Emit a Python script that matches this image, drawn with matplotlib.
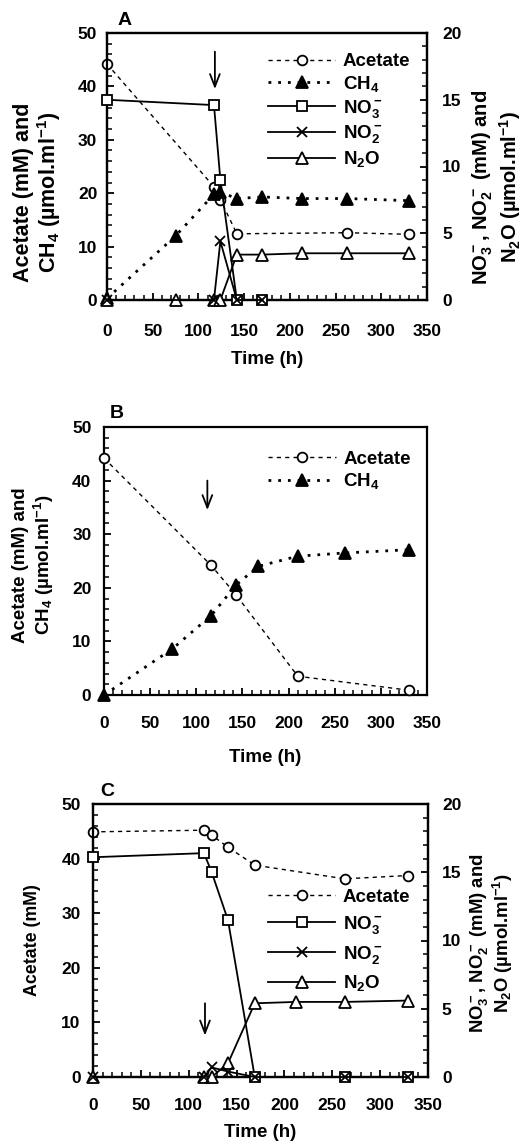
import matplotlib
matplotlib.use("Agg")
import matplotlib.pyplot as plt
from matplotlib.ticker import MultipleLocator

plt.rcParams['font.family'] = ['Liberation Sans', 'DejaVu Sans']
plt.rcParams['font.weight'] = 'bold'
plt.rcParams['mathtext.fontset'] = 'custom'
plt.rcParams['mathtext.rm'] = 'Liberation Sans:bold'
plt.rcParams['mathtext.it'] = 'Liberation Sans:bold'
plt.rcParams['mathtext.bf'] = 'Liberation Sans:bold'
plt.rcParams['mathtext.default'] = 'bf'

# ---------------- Data ----------------
# Panel A
tA_ace = [0, 117, 124, 142, 263, 330]
A_ace = [44.2, 21.2, 18.8, 12.4, 12.6, 12.3]
tA_ch4 = [0, 75, 117, 124, 142, 170, 213, 263, 330]
A_ch4 = [0.3, 12.0, 19.8, 20.2, 19.0, 19.3, 19.0, 19.0, 18.6]
tA_no3 = [0, 117, 124, 142, 170]
A_no3 = [15.0, 14.6, 9.0, 0.0, 0.0]
tA_no2 = [0, 117, 124, 142, 170]
A_no2 = [0.0, 0.0, 4.4, 0.0, 0.0]
tA_n2o = [0, 75, 117, 124, 142, 170, 213, 263, 330]
A_n2o = [0.0, 0.0, 0.0, 0.0, 3.4, 3.4, 3.5, 3.5, 3.5]

# Panel B
tB = [0, 74, 116, 143, 167, 210, 261, 330]
tB_ace = [0, 116, 143, 210, 330]
B_ace = [44.2, 24.2, 18.7, 3.5, 0.9]
B_ch4 = [0.0, 8.6, 14.8, 20.5, 24.0, 25.9, 26.5, 27.1]

# Panel C
tC_ace = [0, 116, 124, 141, 169, 263, 329]
C_ace = [44.9, 45.2, 44.3, 42.1, 38.8, 36.3, 36.9]
tC_no3 = [0, 116, 124, 141, 169, 263, 329]
C_no3 = [16.1, 16.4, 15.0, 11.5, 0.0, 0.0, 0.0]
tC_no2 = [0, 116, 124, 141, 169, 263, 329]
C_no2 = [0.0, 0.0, 0.7, 0.4, 0.0, 0.0, 0.0]
tC_n2o = [0, 116, 124, 141, 169, 212, 263, 329]
C_n2o = [0.0, 0.0, 0.0, 1.0, 5.4, 5.5, 5.5, 5.6]

xticks = [0, 50, 100, 150, 200, 250, 300, 350]
left_ticks = [0, 10, 20, 30, 40, 50]
right_ticks = [0, 5, 10, 15, 20]

lab_ace = "Acetate"
lab_ch4 = "CH$_4$"
lab_no3 = "NO$_3^-$"
lab_no2 = "NO$_2^-$"
lab_n2o = "N$_2$O"

# ---------------- Styles ----------------
MS = 7
MEW = 1.3
ace_style = dict(color='black', lw=1.0, linestyle=(0, (3, 3)), marker='o', ms=MS,
                 mfc='white', mec='black', mew=MEW, clip_on=False, zorder=4)
ch4_style = dict(color='black', lw=2.0, linestyle=(0, (1, 2.5)), marker='^', ms=MS + 1,
                 mfc='black', mec='black', mew=MEW, clip_on=False, zorder=4)
no3_style = dict(color='black', lw=1.3, linestyle='-', marker='s', ms=MS,
                 mfc='white', mec='black', mew=MEW, clip_on=False, zorder=3)
no2_style = dict(color='black', lw=1.3, linestyle='-', marker='x', ms=MS,
                 mec='black', mew=MEW, clip_on=False, zorder=4)
n2o_style = dict(color='black', lw=1.3, linestyle='-', marker='^', ms=MS + 1,
                 mfc='white', mec='black', mew=MEW, clip_on=False, zorder=3)

TICKFS = 12.5
LABFS = 13.5
LEGFS = 13.5

fig = plt.figure(figsize=(5.32, 11.41), dpi=100)


def style_axes(ax, right=None, xpad=15, ypad=9, rpad=10, xlabpad=4):
    ax.set_xlim(0, 350)
    ax.set_ylim(0, 50)
    ax.set_xticks(xticks)
    ax.set_yticks(left_ticks)
    ax.xaxis.set_minor_locator(MultipleLocator(10))
    ax.yaxis.set_minor_locator(MultipleLocator(2))
    ax.tick_params(axis='both', which='major', direction='in', length=5, width=1.3,
                   labelsize=TICKFS)
    ax.tick_params(axis='both', which='minor', direction='in', length=3.5, width=1.1)
    ax.tick_params(axis='x', which='major', pad=xpad)
    ax.tick_params(axis='y', which='major', pad=ypad)
    for s in ax.spines.values():
        s.set_linewidth(1.6)
    ax.set_xlabel("Time (h)", fontsize=LABFS, fontweight='bold', labelpad=xlabpad)
    if right is not None:
        right.set_ylim(0, 20)
        right.set_yticks(right_ticks)
        right.yaxis.set_minor_locator(MultipleLocator(1))
        right.tick_params(axis='y', which='major', direction='in', length=5, width=1.3,
                          labelsize=TICKFS, pad=rpad)
        right.tick_params(axis='y', which='minor', direction='in', length=3.5, width=1.1)
        for s in right.spines.values():
            s.set_linewidth(1.6)


def arrow(ax, x, y0, y1):
    ax.annotate('', xy=(x, y1), xytext=(x, y0),
                arrowprops=dict(arrowstyle='->,head_length=0.9,head_width=0.35', lw=1.3,
                                color='black', shrinkA=0, shrinkB=0))


# ---------------- Panel A ----------------
axA = fig.add_axes([107 / 532, 1 - 300 / 1141, 320 / 532, 267 / 1141])
axA2 = axA.twinx()
style_axes(axA, axA2, xpad=17, ypad=7, rpad=11, xlabpad=9)
l1, = axA.plot(tA_ace, A_ace, label=lab_ace, **ace_style)
l2, = axA.plot(tA_ch4, A_ch4, label=lab_ch4, **ch4_style)
l3, = axA2.plot(tA_no3, A_no3, label=lab_no3, **no3_style)
l4, = axA2.plot(tA_no2, A_no2, label=lab_no2, **no2_style)
l5, = axA2.plot(tA_n2o, A_n2o, label=lab_n2o, **n2o_style)
arrow(axA, 118, 46.5, 39.5)
axA2.legend(handles=[l1, l2, l3, l4, l5], loc='upper left', bbox_to_anchor=(0.503, 0.925),
            frameon=False, fontsize=LEGFS, handlelength=3.6, handletextpad=0.4,
            labelspacing=0.2, borderpad=0, borderaxespad=0)
axA.text(0.056, 1.045, "A", transform=axA.transAxes, fontsize=14, fontweight='bold',
         ha='center', va='center')
axA.text(-0.217, 0.404, "Acetate (mM) and\nCH$_4$ (µmol.ml$^{-1}$)", transform=axA.transAxes,
         rotation=90, ha='center', va='center', fontsize=15.5, fontweight='bold',
         multialignment='center', linespacing=1.05)
axA.text(1.217, 0.423, "NO$_3^-$, NO$_2^-$ (mM) and\nN$_2$O (µmol.ml$^{-1}$)",
         transform=axA.transAxes, rotation=90, ha='center', va='center', fontsize=14.5,
         fontweight='bold', multialignment='center', linespacing=1.1)

# ---------------- Panel B ----------------
axB = fig.add_axes([104 / 532, 1 - 695 / 1141, 323 / 532, 268 / 1141])
style_axes(axB, xpad=15, ypad=9, xlabpad=13)
m1, = axB.plot(tB_ace, B_ace, label=lab_ace, **ace_style)
m2, = axB.plot(tB, B_ch4, label=lab_ch4, **ch4_style)
arrow(axB, 112, 40, 34.5)
axB.legend(handles=[m1, m2], loc='upper left', bbox_to_anchor=(0.508, 0.912),
           frameon=False, fontsize=LEGFS, handlelength=3.6, handletextpad=0.4,
           labelspacing=0.2, borderpad=0, borderaxespad=0)
axB.text(0.04, 1.052, "B", transform=axB.transAxes, fontsize=14, fontweight='bold',
         ha='center', va='center')
axB.text(-0.217, 0.485, "Acetate (mM) and\nCH$_4$ (µmol.ml$^{-1}$)", transform=axB.transAxes,
         rotation=90, ha='center', va='center', fontsize=13.5, fontweight='bold',
         multialignment='center', linespacing=1.2)

# ---------------- Panel C ----------------
axC = fig.add_axes([93 / 532, 1 - 1077 / 1141, 335 / 532, 273 / 1141])
axC2 = axC.twinx()
style_axes(axC, axC2, xpad=15, ypad=9, rpad=10, xlabpad=8)
n1, = axC.plot(tC_ace, C_ace, label=lab_ace, **ace_style)
n3, = axC2.plot(tC_no3, C_no3, label=lab_no3, **no3_style)
n4, = axC2.plot(tC_no2, C_no2, label=lab_no2, **no2_style)
n5, = axC2.plot(tC_n2o, C_n2o, label=lab_n2o, **n2o_style)
arrow(axC, 117, 13.5, 7.6)
axC2.legend(handles=[n1, n3, n4, n5], loc='upper left', bbox_to_anchor=(0.522, 0.69),
            frameon=False, fontsize=LEGFS, handlelength=3.6, handletextpad=0.4,
            labelspacing=0.42, borderpad=0, borderaxespad=0)
axC.text(0.042, 1.044, "C", transform=axC.transAxes, fontsize=14, fontweight='bold',
         ha='center', va='center')
axC.text(-0.18, 0.502, "Acetate (mM)", transform=axC.transAxes,
         rotation=90, ha='center', va='center', fontsize=12.8, fontweight='bold')
axC.text(1.191, 0.49, "NO$_3^-$, NO$_2^-$ (mM) and\nN$_2$O (µmol.ml$^{-1}$)",
         transform=axC.transAxes, rotation=90, ha='center', va='center', fontsize=13.3,
         fontweight='bold', multialignment='center', linespacing=1.05)

fig.savefig("out.png", dpi=100)
